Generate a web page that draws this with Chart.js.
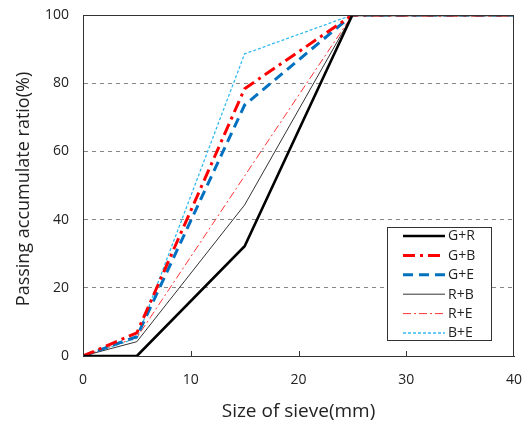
<!DOCTYPE html>
<html>
<head>
<meta charset="utf-8">
<script src="https://cdn.jsdelivr.net/npm/chart.js@4"></script>
<style>
  html, body { margin: 0; padding: 0; background: #fff; }
  #wrap { width: 528px; height: 424px; }
</style>
</head>
<body>
<div id="wrap"><canvas id="sieveChart" width="528" height="424"></canvas></div>
<script>
// sieve sizes (mm) and passing ratios (%)
const sieveSizes = [0, 5, 15, 25, 40];
const seriesNames = ['G+R', 'G+B', 'G+E', 'R+B', 'R+E', 'B+E'];
const gR = [0, 0, 32.2, 100, 100];
const gB = [0, 6.8, 78.4, 100, 100];
const gE = [0, 5.7, 73.6, 100, 100];
const rB = [0, 4.2, 44.3, 100, 100];
const rE = [0, 5.4, 52.8, 100, 100];
const bE = [0, 5.2, 88.6, 100, 100];
const yTicks = [0, 20, 40, 60, 80, 100];
const xTicks = [0, 10, 20, 30, 40];
const yTitle = 'Passing accumulate ratio(%)';

const FONT = "'Open Sans', 'Noto Sans', sans-serif";

function pts(vals) {
    return sieveSizes.map((x, i) => ({ x: x, y: vals[i] }));
}

const styles = [
    { color: '#000000', width: 2.6, dash: [] },
    { color: '#ff0000', width: 3, dash: [12, 5, 3, 5] },
    { color: '#0070c0', width: 3, dash: [10, 6] },
    { color: '#333333', width: 1, dash: [] },
    { color: '#ff3333', width: 1, dash: [8, 3, 2, 3] },
    { color: '#33bbee', width: 1.3, dash: [3, 2] }
];
const allValues = [gR, gB, gE, rB, rE, bE];

const datasets = allValues.map((vals, i) => ({
    label: seriesNames[i],
    data: pts(vals),
    borderColor: styles[i].color,
    backgroundColor: styles[i].color,
    borderWidth: styles[i].width,
    borderDash: styles[i].dash,
    pointRadius: 0,
    tension: 0,
    fill: false,
    order: i
}));

// frame, inner x ticks, y title and legend box inside plot
const framePlugin = {
    id: 'frame',
    afterDraw(chart) {
        const ctx = chart.ctx;
        const a = chart.chartArea;
        const xs = chart.scales.x;
        ctx.save();
        ctx.strokeStyle = '#333';
        ctx.lineWidth = 1;
        ctx.strokeRect(a.left + 0.5, a.top + 0.5, a.right - a.left - 1, a.bottom - a.top);
        // inner tick marks along bottom
        xTicks.slice(1, -1).forEach(v => {
            const px = Math.round(xs.getPixelForValue(v)) + 0.5;
            ctx.beginPath();
            ctx.moveTo(px, a.bottom);
            ctx.lineTo(px, a.bottom - 5);
            ctx.stroke();
        });

        // y axis title
        ctx.save();
        ctx.translate(24, 189);
        ctx.rotate(-Math.PI / 2);
        ctx.font = '18px ' + FONT;
        ctx.fillStyle = '#222';
        ctx.textAlign = 'center';
        ctx.textBaseline = 'middle';
        ctx.fillText(yTitle, 0, 0);
        ctx.restore();

        // legend
        const bx = a.right - 127, by = a.top + 212, bw = 104, bh = 113;
        ctx.fillStyle = '#fff';
        ctx.fillRect(bx, by, bw, bh);
        ctx.strokeStyle = '#333';
        ctx.strokeRect(bx + 0.5, by + 0.5, bw, bh);
        ctx.font = '14px ' + FONT;
        ctx.textBaseline = 'middle';
        ctx.textAlign = 'left';
        chart.data.datasets.forEach((ds, i) => {
            const y = by + 9 + i * 19.4;
            ctx.beginPath();
            ctx.setLineDash(ds.borderDash);
            ctx.strokeStyle = ds.borderColor;
            ctx.lineWidth = ds.borderWidth;
            ctx.moveTo(bx + 16, y);
            ctx.lineTo(bx + 58, y);
            ctx.stroke();
            ctx.setLineDash([]);
            ctx.fillStyle = '#222';
            ctx.fillText(ds.label, bx + 61, y + 0.5);
        });
        ctx.restore();
    }
};

new Chart(document.getElementById('sieveChart').getContext('2d'), {
    type: 'line',
    data: { datasets: datasets },
    plugins: [framePlugin],
    options: {
        responsive: false,
        animation: false,
        events: [],
        layout: { padding: { top: 15, right: 14, bottom: 0, left: 0 } },
        plugins: {
            legend: { display: false },
            tooltip: { enabled: false }
        },
        scales: {
            x: {
                type: 'linear',
                min: 0,
                max: 40,
                afterFit(scale) {
                    scale.height = 68;
                    scale.paddingLeft = 0;
                    scale.paddingRight = 0;
                },
                afterBuildTicks(scale) { scale.ticks = xTicks.map(v => ({ value: v })); },
                grid: { display: false, drawTicks: false },
                border: { display: true, color: '#333' },
                ticks: {
                    padding: 16,
                    color: '#222',
                    font: { family: FONT, size: 14 }
                },
                title: {
                    display: true,
                    text: 'Size of sieve(mm)',
                    color: '#222',
                    font: { family: FONT, size: 19 },
                    padding: { top: 0, bottom: 1 }
                }
            },
            y: {
                min: 0,
                max: 100,
                afterFit(scale) {
                    scale.width = 83;
                    scale.paddingTop = 0;
                    scale.paddingBottom = 0;
                },
                afterBuildTicks(scale) { scale.ticks = yTicks.map(v => ({ value: v })); },
                grid: {
                    drawTicks: false,
                    color: ctx => (ctx.tick && (ctx.tick.value === 0 || ctx.tick.value === 100)) ? 'rgba(0,0,0,0)' : '#888',
                    lineWidth: 1
                },
                border: { display: true, color: '#333', dash: [4, 4] },
                ticks: {
                    padding: 14,
                    color: '#222',
                    font: { family: FONT, size: 14 }
                },
                title: { display: false }
            }
        }
    }
});
</script>
</body>
</html>
